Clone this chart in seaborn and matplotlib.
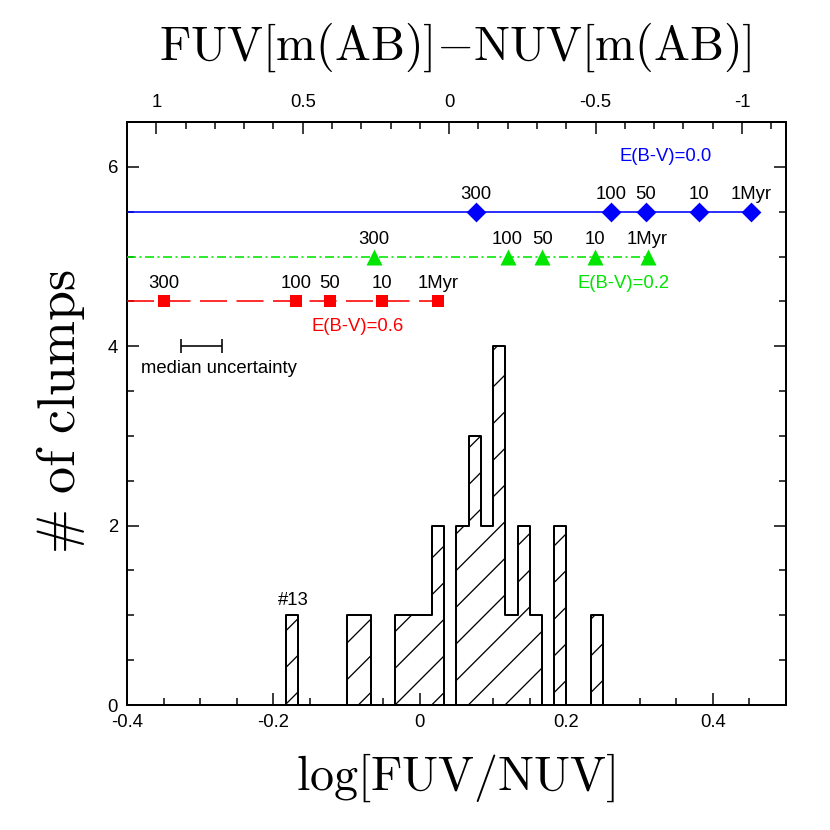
import numpy as np
import pandas as pd
import matplotlib
matplotlib.use("Agg")
import matplotlib.pyplot as plt
import seaborn as sns

# ---------------- data ----------------
bin_width = 1.0 / 60.0
bin_index = np.arange(-11, 15)               # bins k/60 .. (k+1)/60
counts = [1, 0, 0, 0, 0, 1, 1, 0, 0, 1, 1, 1, 2, 0, 2, 3, 2, 4, 1, 2, 1, 0, 2, 0, 0, 1]

age_labels = ["300", "100", "50", "10", "1Myr"]
x_ebv00 = [0.0765, 0.2616, 0.3083, 0.3806, 0.4527]
x_ebv02 = [-0.063, 0.1197, 0.167, 0.239, 0.311]
x_ebv06 = [-0.350, -0.1694, -0.1227, -0.0518, 0.0251]
y_ebv00, y_ebv02, y_ebv06 = 5.5, 5.0, 4.5

median_unc_x, median_unc_y, median_unc_err = -0.298, 4.0, 0.028

x_ticks = [-0.4, -0.2, 0, 0.2, 0.4]
x_ticklabels = ["-0.4", "-0.2", "0", "0.2", "0.4"]
top_ticks = [1, 0.5, 0, -0.5, -1]
top_ticklabels = ["1", "0.5", "0", "-0.5", "-1"]
y_ticks = [0, 2, 4, 6]
mag_zero = 0.1   # FUV-NUV = mag_zero - 2.5 log(FUV/NUV)

# ---------------- style ----------------
DPI = 220
PT = 72.0 / DPI          # points per pixel
sns.set_theme(style="ticks")
plt.rcParams["font.family"] = ["Liberation Sans", "DejaVu Sans"]
plt.rcParams["mathtext.fontset"] = "cm"
plt.rcParams["axes.unicode_minus"] = False
plt.rcParams["hatch.linewidth"] = 1.3 * PT
plt.rcParams["lines.scale_dashes"] = False
plt.rcParams["text.color"] = "black"
plt.rcParams["axes.labelcolor"] = "black"

fs_small = 18.5 * PT
fs_big = 48 * PT

fig = plt.figure(figsize=(830 / DPI, 830 / DPI), dpi=DPI)
ax = fig.add_axes([127 / 830, (830 - 705) / 830, 659 / 830, 583 / 830])

centers = (bin_index + 0.5) * bin_width
edges = [float(v) for v in np.append(bin_index, bin_index[-1] + 1) * bin_width]
hist_df = pd.DataFrame({"logratio": centers, "count": counts})
sns.histplot(data=hist_df, x="logratio", weights="count", bins=edges, element="step",
             fill=True, color="black", facecolor="none", edgecolor="black", hatch="//",
             linewidth=2.0 * PT, ax=ax)

xmin, xmax = -0.4, 0.5
ax.set_xlim(xmin, xmax)
ax.set_ylim(0, 6.5)

lw = 1.6 * PT
# E(B-V)=0.0
ax.hlines(y_ebv00, xmin, max(x_ebv00), color="blue", lw=lw, zorder=3)
sns.scatterplot(x=x_ebv00, y=[y_ebv00] * 5, marker="D", s=(14 * PT) ** 2,
                color="blue", edgecolor="blue", linewidth=0, ax=ax, zorder=4)
# E(B-V)=0.2
ax.hlines(y_ebv02, xmin, max(x_ebv02), color="#00e600", lw=lw, zorder=3,
          linestyles=[(0, (9 * PT, 3.5 * PT, 2 * PT, 3.5 * PT))])
sns.scatterplot(x=x_ebv02, y=[y_ebv02] * 5, marker="^", s=(16 * PT) ** 2,
                color="#00e600", edgecolor="#00e600", linewidth=0, ax=ax, zorder=4)
# E(B-V)=0.6
ax.hlines(y_ebv06, xmin, max(x_ebv06), color="red", lw=lw, zorder=3,
          linestyles=[(0, (27 * PT, 9.5 * PT))])
sns.scatterplot(x=x_ebv06, y=[y_ebv06] * 5, marker="s", s=(12 * PT) ** 2,
                color="red", edgecolor="red", linewidth=0, ax=ax, zorder=4)

for xs, yv in ((x_ebv00, y_ebv00), (x_ebv02, y_ebv02), (x_ebv06, y_ebv06)):
    for xv, lab in zip(xs, age_labels):
        ax.text(xv, yv + 0.1, lab, ha="center", va="bottom", fontsize=fs_small,
                color="black")

ax.text(0.335, 6.12, "E(B-V)=0.0", color="blue", ha="center", va="center", fontsize=fs_small)
ax.text(0.2776, 4.70, "E(B-V)=0.2", color="#00e600", ha="center", va="center", fontsize=fs_small)
ax.text(-0.0844, 4.22, "E(B-V)=0.6", color="red", ha="center", va="center", fontsize=fs_small)

ax.errorbar([median_unc_x], [median_unc_y], xerr=[median_unc_err], fmt="none",
            ecolor="black", elinewidth=1.6 * PT, capsize=6.5 * PT, capthick=1.6 * PT)
ax.text(-0.381, 3.75, "median uncertainty", ha="left", va="center", fontsize=fs_small)
ax.text(-0.173, 1.17, "#13", ha="center", va="center", fontsize=fs_small)

# axes / ticks
for sp in ax.spines.values():
    sp.set_linewidth(2.0 * PT)
    sp.set_color("black")
ax.set_xticks(x_ticks)
ax.set_xticklabels(x_ticklabels)
ax.set_xticks(np.arange(-0.4, 0.5001, 0.05), minor=True)
ax.set_yticks(y_ticks)
ax.set_yticklabels([str(v) for v in y_ticks])
ax.set_yticks(np.arange(0, 6.5001, 0.5), minor=True)
ax.tick_params(which="both", direction="in", top=False, right=True, bottom=True, left=True,
               labelsize=fs_small, width=1.5 * PT, color="black", labelcolor="black")
ax.tick_params(axis="x", which="major", length=12 * PT, pad=9 * PT)
ax.tick_params(axis="y", which="major", length=12 * PT, pad=9 * PT)
ax.tick_params(which="minor", length=6.5 * PT)

secax = ax.secondary_xaxis("top", functions=(lambda x: mag_zero - 2.5 * x,
                                              lambda m: (mag_zero - m) / 2.5))
secax.set_xticks(top_ticks)
secax.set_xticklabels(top_ticklabels)
secax.set_xticks(np.arange(-1.1, 1.1001, 0.1), minor=True)
secax.tick_params(which="both", direction="in", labelsize=fs_small, width=1.5 * PT,
                  color="black", labelcolor="black")
secax.tick_params(which="major", length=12 * PT, pad=11 * PT)
secax.tick_params(which="minor", length=6.5 * PT)
secax.spines["top"].set_linewidth(2.0 * PT)

ax.set_xlabel(r"$\mathrm{log[FUV/NUV]}$", fontsize=fs_big)
ax.xaxis.set_label_coords(0.499, -0.125)
ax.xaxis.label.set_va("center")
ax.set_ylabel(r"$\mathrm{\#\ of\ clumps}$", fontsize=54 * PT)
ax.yaxis.set_label_coords(-0.1015, 0.504)
ax.yaxis.label.set_va("center")
ax.yaxis.label.set_ha("center")
secax.set_xlabel(r"$\mathrm{FUV[m(AB)]{-}NUV[m(AB)]}$", fontsize=fs_big)
secax.xaxis.set_label_coords(0.498, 1.129, transform=ax.transAxes)
secax.xaxis.label.set_va("center")

fig.savefig("out.png", dpi=DPI, facecolor="white")
